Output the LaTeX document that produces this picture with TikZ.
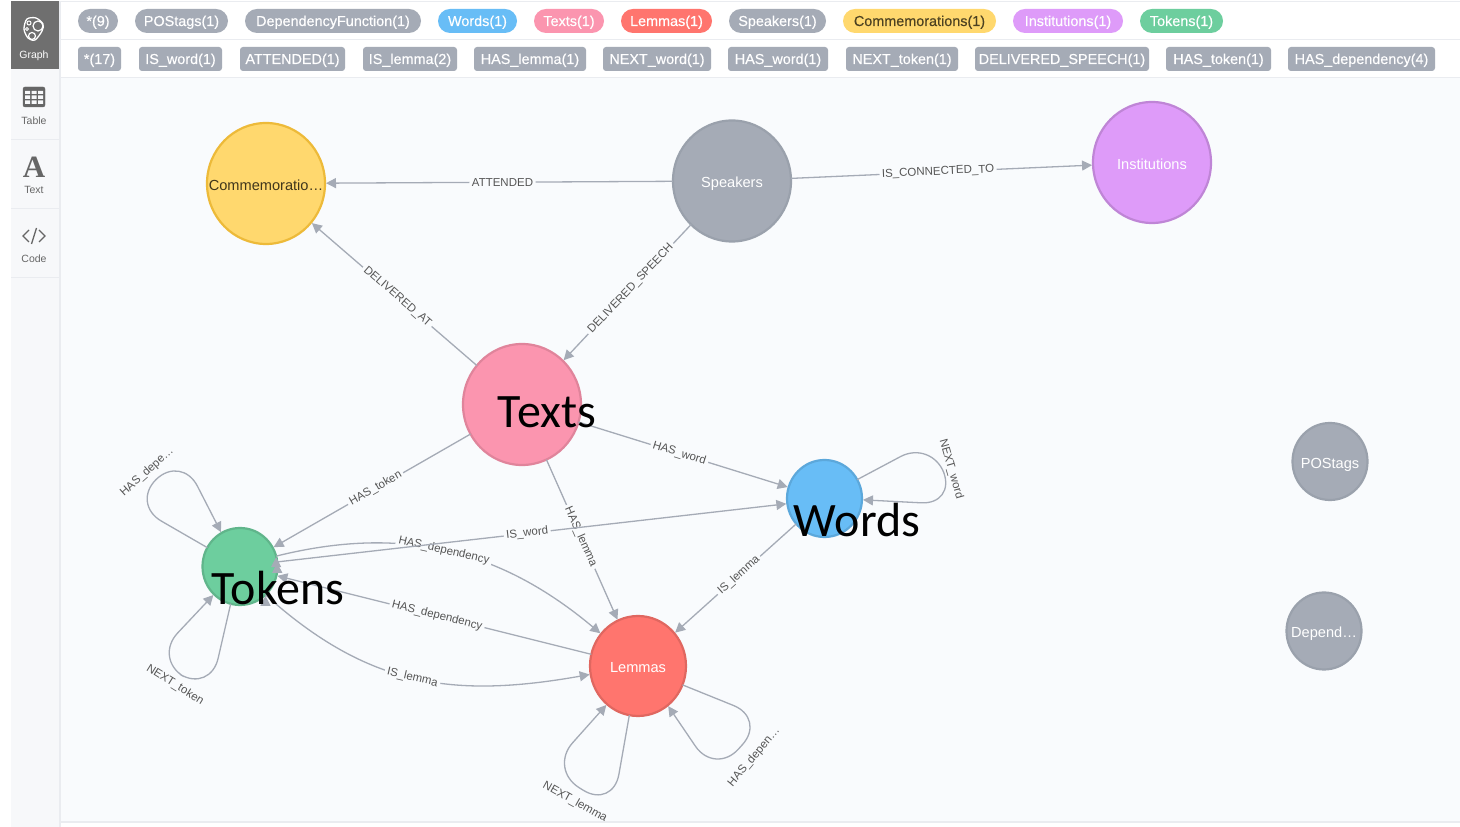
\documentclass[tikz,border=0pt]{standalone}
\usepackage{fontspec}
\setmainfont{Liberation Sans}
\newfontfamily\calloutfont{Carlito}
\newfontfamily\iconfont{Liberation Serif}
\newfontfamily\pillfont[FakeBold=0.3]{Liberation Sans}
\usetikzlibrary{arrows.meta,positioning,shapes.geometric}
\definecolor{canvasbg}{HTML}{F9FBFD}
\definecolor{sidebg}{HTML}{F7F8FA}
\definecolor{ruleline}{HTML}{EAECF0}
\definecolor{activebg}{HTML}{6F6F6F}
\definecolor{iconink}{HTML}{666666}
\definecolor{relgray}{HTML}{A5ABB6}
\definecolor{rellabel}{HTML}{555555}
\definecolor{graybd}{HTML}{9AA1AC}
\definecolor{yellowfill}{HTML}{FFD86E}
\definecolor{yellowbd}{HTML}{EDBA39}
\definecolor{bluefill}{HTML}{68BDF6}
\definecolor{bluebd}{HTML}{5CA8DB}
\definecolor{redfill}{HTML}{FF756E}
\definecolor{redbd}{HTML}{E06760}
\definecolor{purplefill}{HTML}{DE9BF9}
\definecolor{purplebd}{HTML}{BF85D6}
\definecolor{pinkfill}{HTML}{FB95AF}
\definecolor{pinkbd}{HTML}{E0849B}
\definecolor{greenfill}{HTML}{6DCE9E}
\definecolor{greenbd}{HTML}{60B58B}
\newcommand{\nodename}[1]{\makebox[0pt]{#1}}
\tikzset{
	labelpill/.style={rounded corners=12pt,minimum height=24pt,inner sep=0pt,text=white,text height=13pt,text depth=3pt,font=\pillfont\fontsize{14.4}{16}\selectfont},
	typetag/.style={rounded corners=3pt,minimum height=24pt,inner sep=0pt,fill=relgray,text=white,text height=13pt,text depth=3pt,font=\pillfont\fontsize{14.4}{16}\selectfont},
	graphnode/.style={ellipse,line width=2.2pt,inner sep=0pt,outer sep=0pt,text=white,text height=16pt,text depth=2pt,font=\fontsize{14.6}{16}\selectfont},
	bignode/.style={graphnode,minimum width=118pt,minimum height=121pt},
	smallnode/.style={graphnode,minimum width=75pt,minimum height=77pt},
	relation/.style={draw=relgray,line width=1.3pt,-{Triangle[length=10pt,width=10pt]},shorten >=1pt},
	selfloop/.style={relation,rounded corners=35pt},
	rellabeltext/.style={sloped,fill=canvasbg,inner sep=2.5pt,text=rellabel,font=\fontsize{11.5}{13}\selectfont},
	loopname/.style={text=rellabel,inner sep=0pt,font=\fontsize{11.5}{13}\selectfont},
	callout/.style={text=black,inner sep=0pt,font=\calloutfont\fontsize{48}{52}\selectfont},
	sidetext/.style={text=iconink,inner sep=0pt,font=\fontsize{10.5}{12}\selectfont},
}
\begin{document}
\begin{tikzpicture}[x=1pt, y=1pt]
		\useasboundingbox (0,0) rectangle (1460,827);
		% page
		\fill[white] (0,0) rectangle (1460,827);
		\fill[canvasbg] (60,5) rectangle (1460,750);
		\fill[sidebg] (11,0) rectangle (59,826);
		\fill[activebg] (11,758) rectangle (59,826);
		\fill[ruleline] (59,0) rectangle (61,826);
		\fill[ruleline] (60,4) rectangle (1460,6);
		\draw[ruleline] (60,826) -- (1460,826);
		\draw[ruleline] (60,788) -- (1460,788);
		\draw[ruleline] (60,750) -- (1460,750);
		\draw[ruleline] (11,688) -- (59,688);
		\draw[ruleline] (11,619) -- (59,619);
		\draw[ruleline] (11,550) -- (59,550);
		
		% side menu
		\draw[white,line width=1.3pt] plot[smooth cycle] coordinates {(27,808) (36,809) (43,803) (42,796) (35,787) (28,789) (24,798)};
		\draw[white,line width=1.2pt] (38,801) circle (5);
		\draw[white,line width=1.2pt] (32,791) circle (3.5);
		\draw[white,line width=1pt] (29,804) circle (2);
		\draw[white,line width=1pt] (27,798) circle (1.5);
		\node[sidetext,text=white] (graphtab) at (34,771.5) {Graph};
		\draw[iconink,fill=iconink,rounded corners=2pt] (23,720) rectangle (45,740);
		\fill[sidebg] (25,733) rectangle (30,736) (31.5,733) rectangle (36.5,736) (38,733) rectangle (43,736);
		\fill[sidebg] (25,728) rectangle (30,731.5) (31.5,728) rectangle (36.5,731.5) (38,728) rectangle (43,731.5);
		\fill[sidebg] (25,723) rectangle (30,726.5) (31.5,723) rectangle (36.5,726.5) (38,723) rectangle (43,726.5);
		\node[sidetext] (tabletab) at (34,706) {Table};
		\node[text=iconink,inner sep=0pt,font=\iconfont\bfseries\fontsize{31}{32}\selectfont] (texticon) at (34,660) {A};
		\node[sidetext] (texttab) at (34,637) {Text};
		\draw[iconink,line width=1.3pt] (29,597) -- (23,591) -- (29,585);
		\draw[iconink,line width=1.3pt] (39,597) -- (45,591) -- (39,585);
		\draw[iconink,line width=1.3pt] (36.5,599) -- (31.5,583);
		\node[sidetext] (codetab) at (34,568) {Code};
		
		% labels row
		\node[labelpill,fill=relgray,minimum width=40pt] (pillall) at (98,806) {*(9)};
		\node[labelpill,fill=relgray,minimum width=93pt] (pillpos) at (181.5,806) {POStags(1)};
		\node[labelpill,fill=relgray,minimum width=176pt] (pilldep) at (333,806) {DependencyFunction(1)};
		\node[labelpill,fill=bluefill,minimum width=79pt] (pillwords) at (477.5,806) {Words(1)};
		\node[labelpill,fill=pinkfill,minimum width=70pt] (pilltexts) at (569,806) {Texts(1)};
		\node[labelpill,fill=redfill,minimum width=91pt] (pilllemmas) at (666.5,806) {Lemmas(1)};
		\node[labelpill,fill=relgray,minimum width=97pt] (pillspeakers) at (777.5,806) {Speakers(1)};
		\node[labelpill,fill=yellowfill,text=black!70!yellowfill,minimum width=153pt] (pillcomm) at (919.5,806) {Commemorations(1)};
		\node[labelpill,fill=purplefill,minimum width=110pt] (pillinst) at (1068,806) {Institutions(1)};
		\node[labelpill,fill=greenfill,minimum width=83pt] (pilltokens) at (1181.5,806) {Tokens(1)};
		
		% relationship types row
		\node[typetag,minimum width=43pt] (tagall) at (99.5,768) {*(17)};
		\node[typetag,minimum width=83pt] (tagisword) at (180.5,768) {IS\_word(1)};
		\node[typetag,minimum width=105pt] (tagattended) at (292.5,768) {ATTENDED(1)};
		\node[typetag,minimum width=94pt] (tagislemma) at (410,768) {IS\_lemma(2)};
		\node[typetag,minimum width=112pt] (taghaslemma) at (530,768) {HAS\_lemma(1)};
		\node[typetag,minimum width=108pt] (tagnextword) at (657,768) {NEXT\_word(1)};
		\node[typetag,minimum width=100pt] (taghasword) at (778,768) {HAS\_word(1)};
		\node[typetag,minimum width=112pt] (tagnexttoken) at (902,768) {NEXT\_token(1)};
		\node[typetag,minimum width=174pt] (tagdelivered) at (1062,768) {DELIVERED\_SPEECH(1)};
		\node[typetag,minimum width=105pt] (taghastoken) at (1218.5,768) {HAS\_token(1)};
		\node[typetag,minimum width=147pt] (taghasdep) at (1361.5,768) {HAS\_dependency(4)};
		
		% graph nodes
		\node[bignode,fill=yellowfill,draw=yellowbd,text=black!75!yellowfill] (comm) at (266,643.5) {\nodename{Commemoratio\ldots}};
		\node[bignode,fill=relgray,draw=graybd] (speakers) at (732,646) {\nodename{Speakers}};
		\node[bignode,fill=purplefill,draw=purplebd] (inst) at (1152,664.5) {\nodename{Institutions}};
		\node[bignode,fill=pinkfill,draw=pinkbd] (texts) at (522,422.5) {};
		\node[smallnode,fill=bluefill,draw=bluebd] (words) at (824.5,328.5) {};
		\node[smallnode,fill=greenfill,draw=greenbd] (tokens) at (240,260.5) {};
		\node[graphnode,fill=redfill,draw=redbd,minimum width=96pt,minimum height=100pt] (lemmas) at (638,161) {\nodename{Lemmas}};
		\node[smallnode,fill=relgray,draw=graybd] (postags) at (1330,365.5) {\nodename{POStags}};
		\node[smallnode,fill=relgray,draw=graybd] (depend) at (1324,196) {\nodename{Depend\ldots}};
		
		% relationships
		\begin{scope}[every path/.style={relation},every node/.style={rellabeltext}]
			\path (speakers)
			edge node[pos=.49] (attendedlabel) {ATTENDED} (comm)
			edge node[pos=.487] (connectedlabel) {IS\_CONNECTED\_TO} (inst)
			edge node[pos=.47] (speechlabel) {DELIVERED\_SPEECH} (texts);
			\path (texts)
			edge node[pos=.48] (deliveredlabel) {DELIVERED\_AT} (comm)
			edge node[pos=.48] (haswordlabel) {HAS\_word} (words)
			edge node[pos=.48] (hastokenlabel) {HAS\_token} (tokens)
			edge node[pos=.48] (haslemmalabel) {HAS\_lemma} (lemmas);
			\path (words)
			edge node[pos=.47] (wordlemmalabel) {IS\_lemma} (lemmas);
			\path (lemmas)
			edge node[pos=.49] (lemmadeplabel) {HAS\_dependency} (tokens);
			\path (tokens.-48)
			edge[out=-42,in=190,looseness=1.06] node[pos=.49] (tokenlemmalabel) {IS\_lemma} (lemmas.190);
			\path (tokens.16)
			edge[out=14,in=140,looseness=1] node[pos=.485] (tokendeplabel) {HAS\_dependency} (lemmas.139);
			\path (tokens.7)
			edge node[pos=.49] (iswordlabel) {IS\_word} (words.188);
		\end{scope}
		
		% self loops
		\begin{scope}[every path/.style={selfloop}]
			\draw (tokens.150) -- ++(150:88) -- ++(44:70) -- (tokens.119);
			\draw (tokens.256) -- ++(257:91) -- ++(149:66) -- (tokens.227);
			\draw (lemmas.260) -- ++(260:95) -- ++(148:75) -- (lemmas.231);
			\draw (lemmas.-23) -- ++(-22:90) -- ++(228:76) -- (lemmas.-53);
			\draw (words.30) -- ++(28:84) -- ++(-69:69) -- (words.-2);
		\end{scope}
		\node[loopname,rotate=42] (tokendeploop) at (147,355) {HAS\_depe\ldots};
		\node[loopname,rotate=-32] (nexttokenloop) at (175,142) {NEXT\_token};
		\node[loopname,rotate=-29] (nextlemmaloop) at (575,25) {NEXT\_lemma};
		\node[loopname,rotate=50] (lemmadeploop) at (754,70) {HAS\_depen\ldots};
		\node[loopname,rotate=-74] (nextwordloop) at (951,358) {NEXT\_word};
		
		% big names on top
		\node[callout] (textscallout) at (547,415) {Texts};
		\node[callout] (wordscallout) at (857,307) {Words};
		\node[callout] (tokenscallout) at (278,239) {Tokens};
	\end{tikzpicture}
\end{document}
